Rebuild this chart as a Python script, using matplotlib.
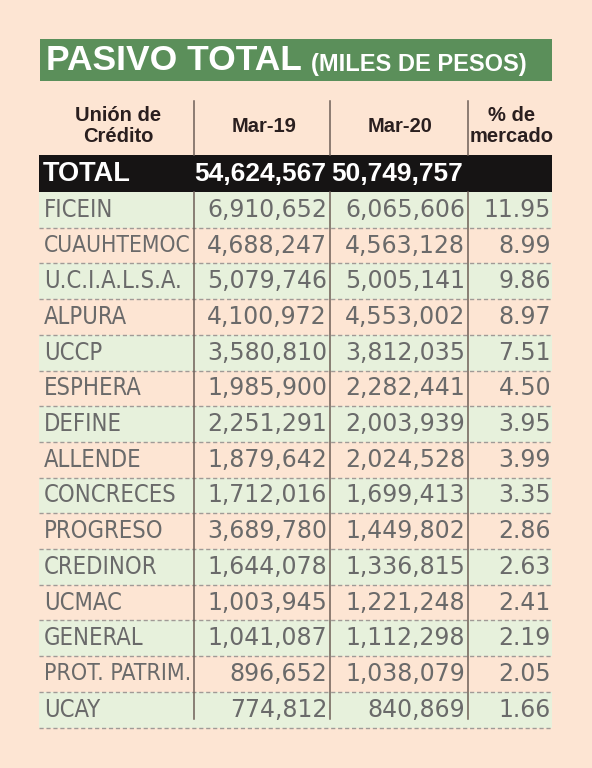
import matplotlib
matplotlib.use('Agg')
import matplotlib.pyplot as plt
from matplotlib import font_manager
from matplotlib.font_manager import FontProperties
from matplotlib.patches import Rectangle

# Table data
unions = ['FICEIN', 'CUAUHTEMOC', 'U.C.I.A.L.S.A.', 'ALPURA', 'UCCP', 'ESPHERA',
          'DEFINE', 'ALLENDE', 'CONCRECES', 'PROGRESO', 'CREDINOR', 'UCMAC',
          'GENERAL', 'PROT. PATRIM.', 'UCAY']
mar19 = [6910652, 4688247, 5079746, 4100972, 3580810, 1985900, 2251291, 1879642,
         1712016, 3689780, 1644078, 1003945, 1041087, 896652, 774812]
mar20 = [6065606, 4563128, 5005141, 4553002, 3812035, 2282441, 2003939, 2024528,
         1699413, 1449802, 1336815, 1221248, 1112298, 1038079, 840869]
share = [11.95, 8.99, 9.86, 8.97, 7.51, 4.50, 3.95, 3.99, 3.35, 2.86, 2.63,
         2.41, 2.19, 2.05, 1.66]
total19 = 54624567
total20 = 50749757
headers = ['Unión de\nCrédito', 'Mar-19', 'Mar-20', '% de\nmercado']

# condensed face for the names, if one is installed
cond_path = font_manager.findfont(FontProperties(family='DejaVu Sans', stretch='condensed'))
have_cond = 'ondensed' in cond_path

bold = 'Liberation Sans'
nums = 'DejaVu Sans'

bg = '#fde5d3'
green_row = '#e7f1dc'
title_green = '#5b8f5a'
txt_gray = '#6a6a6a'
head_col = '#2a1f1f'
line_col = '#6e5f58'

fig = plt.figure(figsize=(5.92, 7.68), dpi=100)
fig.patch.set_facecolor(bg)
ax = fig.add_axes([0, 0, 1, 1])
ax.set_xlim(0, 592)
ax.set_ylim(768, 0)
ax.axis('off')
renderer = fig.canvas.get_renderer()

left, right = 39, 552

# title band
ax.add_patch(Rectangle((40, 39), right - 40, 42, color=title_green, lw=0))
ax.text(46, 61, 'PASIVO TOTAL', color='white', fontsize=25.5,
        fontweight='bold', family=bold, va='center', ha='left')
ax.text(311, 64, '(MILES DE PESOS)', color='white', fontsize=17,
        fontweight='bold', family=bold, va='center', ha='left')

# header
head_y = 126
head_x = [118, 264, 400, 512]
for x, h in zip(head_x, headers):
    ax.text(x, head_y, h, color=head_col, fontsize=14.5, fontweight='bold',
            family=bold, ha='center', va='center', linespacing=1.1)

# total row
ax.add_patch(Rectangle((left, 155), right - left, 37, color='#161414', lw=0))
ax.text(43, 174, 'TOTAL', color='white', fontsize=19.5, fontweight='bold',
        family=bold, ha='left', va='center')
ax.text(326, 174, f'{total19:,}', color='white', fontsize=19,
        fontweight='bold', family=bold, ha='right', va='center')
ax.text(463, 174, f'{total20:,}', color='white', fontsize=19,
        fontweight='bold', family=bold, ha='right', va='center')

# data rows
top = 192
row_h = 35.7
name_max = 148
for i, name in enumerate(unions):
    y0 = top + i * row_h
    yc = y0 + row_h / 2
    if i % 2 == 0:
        ax.add_patch(Rectangle((left, y0), right - left, row_h,
                               color=green_row, lw=0, zorder=0))
    ax.plot([left, right], [y0 + row_h, y0 + row_h], color='#a09a96',
            lw=1, ls=(0, (3, 2)), zorder=1)
    if have_cond:
        t = ax.text(44, yc, name, color=txt_gray, fontsize=17,
                    family='DejaVu Sans', fontstretch='condensed',
                    ha='left', va='center')
    else:
        t = ax.text(44, yc, name, color=txt_gray, fontsize=17, family=bold,
                    ha='left', va='center')
    w = t.get_window_extent(renderer).width
    if w > name_max:
        t.set_fontsize(17 * name_max / w)
    ax.text(327, yc, f'{mar19[i]:,}', color=txt_gray, fontsize=17,
            family=nums, ha='right', va='center')
    ax.text(465, yc, f'{mar20[i]:,}', color=txt_gray, fontsize=17,
            family=nums, ha='right', va='center')
    ax.text(551, yc, f'{share[i]:.2f}', color=txt_gray, fontsize=17,
            family=nums, ha='right', va='center')

# column rules
for x in [194, 330, 468]:
    ax.plot([x, x], [101, 155], color=line_col, lw=1.1, zorder=2)
    ax.plot([x, x], [192, 719], color=line_col, lw=1.1, zorder=2)

fig.savefig('out.png', dpi=100, facecolor=bg)
